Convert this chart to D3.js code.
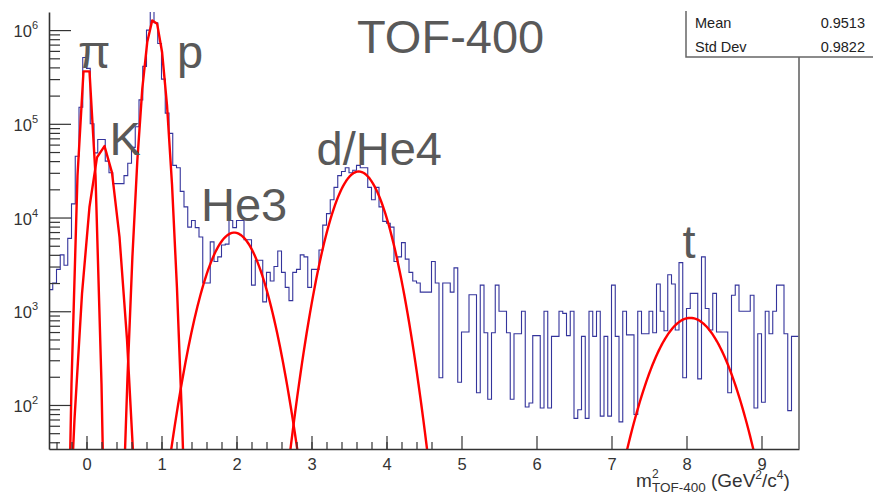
<!DOCTYPE html>
<html>
<head>
<meta charset="utf-8">
<script src="https://cdn.jsdelivr.net/npm/d3@7"></script>
<style>
    body { margin: 0; background: #fff; }
    svg { font-family: "Liberation Sans", Arial, Helvetica, sans-serif; }
</style>
</head>
<body>
<script>
// m^2 histogram from TOF-400, bins of 0.05 GeV^2/c^4 starting at -0.5
var binStart = -0.5;
var binWidth = 0.05;
var counts = [
    1700, 2000, 2800, 4000, 3100, 6000, 14000, 45000, 150000, 510000,
    390000, 100000, 49000, 68000, 68000, 40000, 30000, 23000, 23000, 23000,
    28000, 38000, 56000, 93000, 180000, 410000, 1000000, 2200000, 1200000, 720000,
    300000, 130000, 79000, 36000, 34000, 19000, 13000, 7900, 9300, 7800,
    6200, 2000, 2000, 5500, 3400, 3800, 5100, 5200, 9300, 7800,
    9300, 9300, 5800, 5800, 1900, 3500, 3500, 1260, 2600, 2100,
    3000, 4400, 2600, 1800, 1300, 2600, 2800, 4000, 3800, 1800,
    2800, 2800, 4500, 8300, 11000, 15500, 21000, 28000, 31000, 34000,
    30000, 32000, 36000, 34000, 34000, 21000, 15500, 21000, 13000, 9100,
    8700, 7900, 3400, 3800, 5400, 3600, 2600, 2100, 2000, 1600,
    1600, 1600, 3400, 2000, 195, 2000, 2000, 1600, 2900, 175,
    600, 600, 1500, 1500, 135, 1900, 590, 115, 590, 1900,
    1000, 1000, 590, 115, 575, 575, 1000, 95, 105, 550,
    550, 93, 1000, 93, 540, 540, 1000, 950, 550, 1000,
    72, 89, 540, 72, 1000, 540, 1000, 76, 540, 76,
    1900, 540, 66, 1000, 560, 560, 79, 1000, 575, 575,
    1000, 590, 1950, 1000, 620, 2450, 1950, 630, 3300, 195,
    1070, 1550, 1550, 190, 3800, 1070, 630, 1550, 600, 600,
    600, 135, 1480, 1900, 1000, 1000, 1000, 1480, 93, 575,
    107, 1000, 575, 1000, 1900, 1900, 575, 87, 540, 540
];

// gaussian fits: amplitude, mean, sigma, drawing range and number of segments
var fitAmp   = [5.0e5, 5.9e4, 1.32e6, 6900, 31000, 850];
var fitMean  = [0.0, 0.22, 0.90, 1.97, 3.63, 8.05];
var fitSigma = [0.05, 0.1036, 0.0842, 0.2575, 0.2465, 0.331];
var fitMin   = [-0.36, -0.46, 0.48, 1.0, 2.6, 7.0];
var fitMax   = [0.36, 0.84, 1.338, 3.0, 4.7, 9.1];
var fitNpx   = [9, 13, 13, 100, 100, 100];

var peakLabels = ['π', 'K', 'p', 'He3', 'd/He4', 't'];
var xTicks = [0, 1, 2, 3, 4, 5, 6, 7, 8, 9];
var yDecades = [2, 3, 4, 5, 6];
var statNames = ['Mean', 'Std Dev'];
var statValues = ['0.9513', '0.9822'];

window.onload = function(){
    var width = 873, height = 495;
    var left = 49, right = 799, top = 12, bottom = 449;

    var svg = d3.select('body')
        .append('svg')
        .attr('width', width)
        .attr('height', height);

    // scales: x linear over the histogram range, y log (10^2 at 405px, 93.7px per decade)
    var x = d3.scaleLinear()
        .domain([binStart, binStart + binWidth * counts.length])
        .range([left, right]);

    var y = d3.scaleLog()
        .domain([33.9, 1.56e6])
        .range([bottom, top]);

    svg.append('clipPath')
        .attr('id', 'frame')
        .append('rect')
        .attr('x', left)
        .attr('y', top)
        .attr('width', right - left)
        .attr('height', bottom - top);

    var plot = svg.append('g').attr('clip-path', 'url(#frame)');

    // histogram as a step line
    var steps = counts.map(function(c, i){ return [binStart + i * binWidth, c]; });
    steps.push([binStart + counts.length * binWidth, counts[counts.length - 1]]);

    var stepLine = d3.line()
        .curve(d3.curveStepAfter)
        .x(function(d){ return x(d[0]); })
        .y(function(d){ return y(d[1]); });

    plot.append('path')
        .datum(steps)
        .attr('d', stepLine)
        .style('fill', 'none')
        .style('stroke', '#34349c')
        .style('stroke-width', 1.1);

    // fit curves
    var fitLine = d3.line()
        .x(function(d){ return x(d[0]); })
        .y(function(d){ return y(Math.max(d[1], 1e-3)); });

    fitAmp.forEach(function(amp, f){
        var pts = d3.range(fitNpx[f] + 1).map(function(i){
            var xv = fitMin[f] + (fitMax[f] - fitMin[f]) * i / fitNpx[f];
            var z = (xv - fitMean[f]) / fitSigma[f];
            return [xv, amp * Math.exp(-0.5 * z * z)];
        });
        plot.append('path')
            .datum(pts)
            .attr('d', fitLine)
            .style('fill', 'none')
            .style('stroke', '#f00')
            .style('stroke-width', 2.4)
            .style('stroke-linejoin', 'round');
    });

    // x axis: major ticks with labels, minor ticks every 0.2
    var xAxis = svg.append('g')
        .attr('class', 'axis')
        .attr('transform', 'translate(0,' + bottom + ')')
        .call(d3.axisBottom(x).tickValues(xTicks).tickSizeInner(-13).tickSizeOuter(0).tickPadding(9));

    svg.append('g')
        .attr('transform', 'translate(0,' + bottom + ')')
        .call(d3.axisBottom(x).tickValues(d3.range(-4, 48, 2).map(function(v){ return v / 10; }))
            .tickSizeInner(-7).tickSizeOuter(0).tickFormat(''))
        .call(function(g){ g.select('.domain').remove(); });

    xAxis.selectAll('text')
        .style('font-size', '16.5px')
        .style('fill', '#333');

    // y axis: decades and 2..9 minor ticks
    var minors = [];
    [1, 2, 3, 4, 5, 6].forEach(function(d){
        d3.range(2, 10).forEach(function(m){
            var v = m * Math.pow(10, d);
            if (v >= y.domain()[0] && v <= y.domain()[1]) minors.push(v);
        });
    });

    svg.append('g')
        .attr('transform', 'translate(' + left + ',0)')
        .call(d3.axisLeft(y).tickValues(yDecades.map(function(d){ return Math.pow(10, d); }))
            .tickSizeInner(-22).tickSizeOuter(0).tickFormat(''));

    svg.append('g')
        .attr('transform', 'translate(' + left + ',0)')
        .call(d3.axisLeft(y).tickValues(minors).tickSizeInner(-11).tickSizeOuter(0).tickFormat(''))
        .call(function(g){ g.select('.domain').remove(); });

    svg.selectAll('.domain').style('stroke', '#333').style('stroke-width', 1.6);
    svg.selectAll('.tick line').style('stroke', '#333').style('stroke-width', 1.2);

    var yLabels = svg.selectAll('.ylabel')
        .data(yDecades)
        .enter()
        .append('text')
        .attr('class', 'ylabel')
        .attr('text-anchor', 'end')
        .attr('x', 38)
        .attr('y', function(d){ return y(Math.pow(10, d)) + 7; })
        .style('font-size', '16.5px')
        .style('fill', '#333');
    yLabels.append('tspan').text('10');
    yLabels.append('tspan')
        .attr('dy', -8)
        .style('font-size', '11px')
        .text(function(d){ return d; });

    // right frame edge
    svg.append('line')
        .attr('x1', right).attr('x2', right)
        .attr('y1', 57).attr('y2', bottom)
        .style('stroke', '#777')
        .style('stroke-width', 1.8);

    // stats box
    svg.append('path')
        .attr('d', 'M686,11V57H873')
        .style('fill', 'none')
        .style('stroke', '#666')
        .style('stroke-width', 1.5);

    statNames.forEach(function(name, i){
        svg.append('text')
            .attr('x', 695)
            .attr('y', 28 + i * 23.5)
            .style('font-size', '14.5px')
            .style('fill', '#222')
            .text(name);
        svg.append('text')
            .attr('x', 865)
            .attr('y', 28 + i * 23.5)
            .attr('text-anchor', 'end')
            .style('font-size', '14.5px')
            .style('fill', '#222')
            .text(statValues[i]);
    });

    // title and particle labels
    svg.append('text')
        .attr('x', 357)
        .attr('y', 53)
        .style('font-size', '47px')
        .style('fill', '#595959')
        .text('TOF-400');

    var labelPos = [[78, 68], [109.5, 155], [177, 68], [201, 221], [316.5, 165], [682.5, 258]];
    svg.selectAll('.peak')
        .data(peakLabels)
        .enter()
        .append('text')
        .attr('class', 'peak')
        .attr('x', function(d, i){ return labelPos[i][0]; })
        .attr('y', function(d, i){ return labelPos[i][1]; })
        .style('font-size', '47px')
        .style('fill', '#595959')
        .text(function(d){ return d; });

    // x axis title: m^2_{TOF-400} (GeV^2/c^4)
    var titleStyle = function(t, size){
        return t.style('font-size', size).style('fill', '#333');
    };
    titleStyle(svg.append('text').attr('x', 636).attr('y', 487).text('m'), '19px');
    titleStyle(svg.append('text').attr('x', 652).attr('y', 478).text('2'), '12px');
    titleStyle(svg.append('text').attr('x', 652).attr('y', 492).text('TOF-400'), '13.5px');

    var unit = titleStyle(svg.append('text').attr('x', 711).attr('y', 487), '19px');
    unit.append('tspan').text('(GeV');
    unit.append('tspan').attr('dy', -8).style('font-size', '12px').text('2');
    unit.append('tspan').attr('dy', 8).text('/c');
    unit.append('tspan').attr('dy', -8).style('font-size', '12px').text('4');
    unit.append('tspan').attr('dy', 8).text(')');
};
</script>
</body>
</html>
